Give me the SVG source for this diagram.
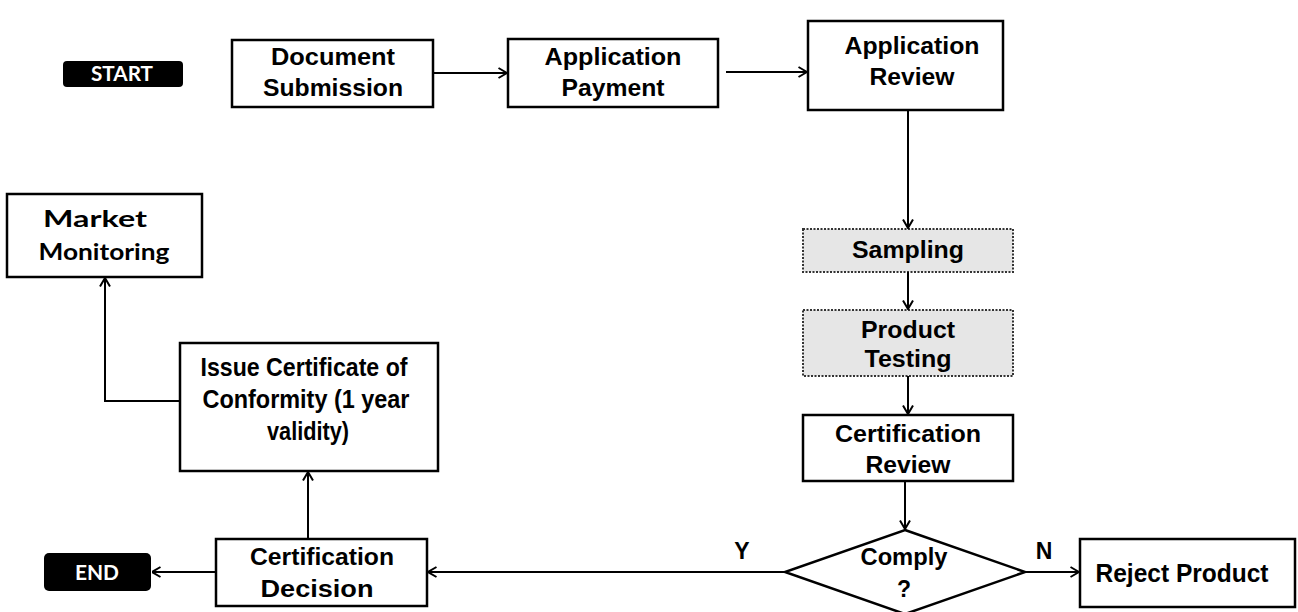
<svg xmlns="http://www.w3.org/2000/svg" width="1298" height="612" viewBox="0 0 1298 612">
<defs>
<marker id="arr" viewBox="0 0 10 12" refX="9.5" refY="6" markerWidth="10" markerHeight="12" markerUnits="userSpaceOnUse" orient="auto">
<path d="M1,1 L9.5,6 L1,11" fill="none" stroke="#000" stroke-width="2"/>
</marker>
<style>
.box{fill:#fff;stroke:#000;stroke-width:2.5}
.dot{fill:#e6e6e6;stroke:#333;stroke-width:2;stroke-dasharray:2 1.5}
.term{fill:#000}
.t{font-family:"Liberation Sans",Arial,sans-serif;font-weight:bold;font-size:23px;fill:#000;text-anchor:middle}
.c{font-family:Lato,"Open Sans",sans-serif;font-weight:bold;font-size:23.5px;fill:#000;text-anchor:middle}
.w{font-family:Lato,"Open Sans",sans-serif;font-weight:bold;font-size:20px;fill:#fff;text-anchor:middle}
.ln{fill:none;stroke:#000;stroke-width:2}
</style>
</defs>
<g id="start"><rect class="term" x="63" y="61" width="120" height="26" rx="4"/><text class="w" x="122" y="81" textLength="62" lengthAdjust="spacingAndGlyphs">START</text></g>
<g id="doc"><rect class="box" x="232" y="40" width="201" height="67"/><text class="t" x="333" y="65" textLength="124" lengthAdjust="spacingAndGlyphs">Document</text><text class="t" x="333" y="96" textLength="140" lengthAdjust="spacingAndGlyphs">Submission</text></g>
<g id="pay"><rect class="box" x="508" y="39" width="210" height="68"/><text class="t" x="613" y="65" textLength="137" lengthAdjust="spacingAndGlyphs">Application</text><text class="t" x="613" y="96" textLength="103" lengthAdjust="spacingAndGlyphs">Payment</text></g>
<g id="review"><rect class="box" x="808" y="21" width="195" height="89"/><text class="t" x="912" y="54" textLength="135" lengthAdjust="spacingAndGlyphs">Application</text><text class="t" x="912" y="85" textLength="85" lengthAdjust="spacingAndGlyphs">Review</text></g>
<g id="sampling"><rect class="dot" x="803" y="229" width="210" height="43"/><text class="t" x="908" y="258" textLength="112" lengthAdjust="spacingAndGlyphs">Sampling</text></g>
<g id="testing"><rect class="dot" x="803" y="310" width="210" height="66"/><text class="t" x="908" y="338" textLength="94" lengthAdjust="spacingAndGlyphs">Product</text><text class="t" x="908" y="367" textLength="87" lengthAdjust="spacingAndGlyphs">Testing</text></g>
<g id="certreview"><rect class="box" x="803" y="415" width="210" height="66"/><text class="t" x="908" y="442" textLength="146" lengthAdjust="spacingAndGlyphs">Certification</text><text class="t" x="908" y="473" textLength="85" lengthAdjust="spacingAndGlyphs">Review</text></g>
<g id="comply"><polygon class="box" points="905,530 1025,572 905,614 785,572"/><text class="t" x="904" y="565" textLength="87" lengthAdjust="spacingAndGlyphs">Comply</text><text class="t" x="904" y="597">?</text></g>
<g id="reject"><rect class="box" x="1080" y="539" width="215" height="68"/><text class="t" x="1182" y="582" style="font-size:25px" textLength="173" lengthAdjust="spacingAndGlyphs">Reject Product</text></g>
<g id="decision"><rect class="box" x="216" y="539" width="211" height="67"/><text class="t" x="322" y="565" textLength="144" lengthAdjust="spacingAndGlyphs">Certification</text><text class="t" x="317" y="597" textLength="113" lengthAdjust="spacingAndGlyphs">Decision</text></g>
<g id="end"><rect class="term" x="44" y="553" width="107" height="38" rx="5"/><text class="w" x="97" y="580" textLength="44" lengthAdjust="spacingAndGlyphs">END</text></g>
<g id="issue"><rect class="box" x="180" y="343" width="258" height="128"/><text class="t" x="304" y="376" style="font-size:26px" textLength="207" lengthAdjust="spacingAndGlyphs">Issue Certificate of</text><text class="t" x="306" y="408" style="font-size:26px" textLength="207" lengthAdjust="spacingAndGlyphs">Conformity (1 year</text><text class="t" x="308" y="440" style="font-size:26px" textLength="82" lengthAdjust="spacingAndGlyphs">validity)</text></g>
<g id="market"><rect class="box" x="7" y="194" width="195" height="83"/><text class="c" x="95" y="227" textLength="104" lengthAdjust="spacingAndGlyphs">Market</text><text class="c" x="104" y="260" textLength="131" lengthAdjust="spacingAndGlyphs">Monitoring</text></g>
<g id="labels"><text class="t" x="742" y="559">Y</text><text class="t" x="1044" y="559">N</text></g>
<g id="connectors">
<path class="ln" d="M433,73 H507" marker-end="url(#arr)"/>
<path class="ln" d="M726,72 H807" marker-end="url(#arr)"/>
<path class="ln" d="M908,110 V228" marker-end="url(#arr)"/>
<path class="ln" d="M908,272 V309" marker-end="url(#arr)"/>
<path class="ln" d="M908,376 V414" marker-end="url(#arr)"/>
<path class="ln" d="M905,481 V529" marker-end="url(#arr)"/>
<path class="ln" d="M1025,572 H1079" marker-end="url(#arr)"/>
<path class="ln" d="M785,572 H428" marker-end="url(#arr)"/>
<path class="ln" d="M216,572 H152" marker-end="url(#arr)"/>
<path class="ln" d="M308,539 V472" marker-end="url(#arr)"/>
<path class="ln" d="M180,401 H105 V278" marker-end="url(#arr)"/>
</g>
</svg>
